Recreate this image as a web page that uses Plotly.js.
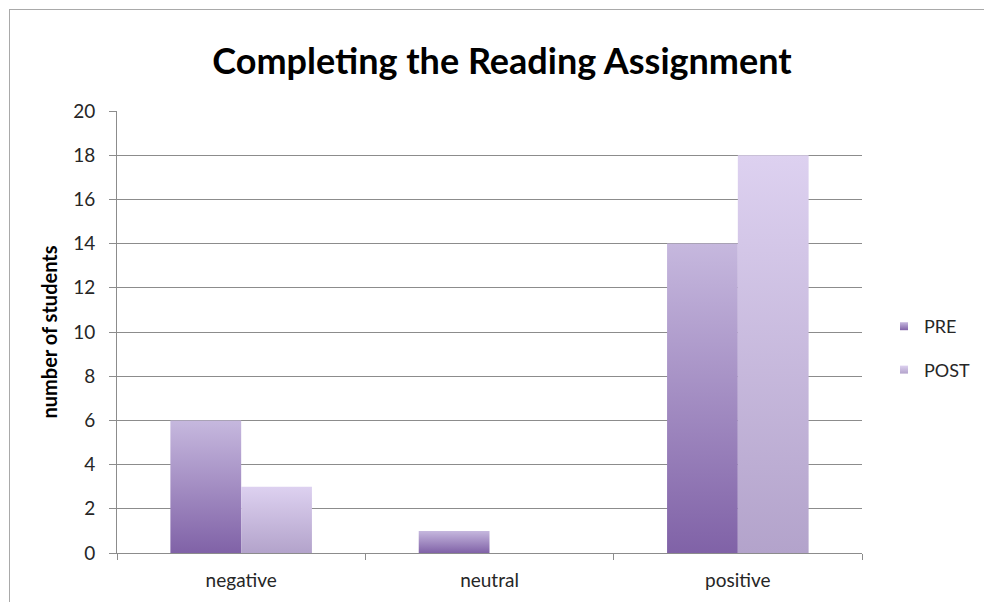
<!DOCTYPE html>
<html>
<head>
<meta charset="utf-8">
<script src="https://cdn.plot.ly/plotly-3.0.1.min.js"></script>
<style>
html,body{margin:0;padding:0;background:#fff;}
#wrap{position:relative;width:984px;height:602px;overflow:hidden;}
#chart{width:984px;height:602px;}
#frame{position:absolute;left:9px;top:9px;width:2000px;height:2000px;border-left:1px solid #a9a9a9;border-top:1px solid #a9a9a9;pointer-events:none;}
</style>
</head>
<body>
<div id="wrap"><div id="chart"></div><div id="frame"></div></div>
<script>
const categories = ["negative", "neutral", "positive"];
const preValues = [6, 1, 14];
const postValues = [3, 0, 18];
const seriesNames = ["PRE", "POST"];
const yTicks = [0, 2, 4, 6, 8, 10, 12, 14, 16, 18, 20];

const FONT = "Lato, 'Open Sans', sans-serif";

const data = [
  {type: "bar", name: seriesNames[0], x: categories, y: preValues,
   marker: {color: "#a08bc4", line: {width: 0}}, legendgroup: "a", hoverinfo: "none"},
  {type: "bar", name: seriesNames[1], x: categories, y: postValues,
   marker: {color: "#cbbfe2", line: {width: 0}}, legendgroup: "b", hoverinfo: "none"}
];

const layout = {
  width: 984, height: 602,
  margin: {l: 117, r: 122, t: 111, b: 49, autoexpand: false},
  paper_bgcolor: "#ffffff", plot_bgcolor: "#ffffff",
  font: {family: FONT, size: 19, color: "#262626"},
  barmode: "group", bargap: 0.43, bargroupgap: 0,
  title: {text: "Completing the Reading Assignment", font: {family: FONT, size: 36, color: "#000", weight: 700},
          x: 502/984, xref: "container", xanchor: "center", y: 1 - 61/602, yref: "container", yanchor: "middle"},
  xaxis: {type: "category", tickson: "boundaries", ticks: "outside", ticklen: 6, tickcolor: "#8c8c8c",
          showline: true, linecolor: "#8c8c8c", linewidth: 1, showgrid: false, zeroline: false,
          ticklabelstandoff: 10, tickfont: {family: FONT, size: 19, color: "#262626"}, fixedrange: true},
  yaxis: {range: [0, 20], tickvals: yTicks, ticktext: yTicks.map(String), ticks: "outside", ticklen: 7,
          tickcolor: "#8c8c8c", showline: true, linecolor: "#8c8c8c", linewidth: 1,
          showgrid: true, gridcolor: "#8c8c8c", gridwidth: 1, zeroline: false,
          ticklabelstandoff: 10, tickfont: {family: FONT, size: 19, color: "#262626"},
          title: {text: "number of students", font: {family: FONT, size: 20, color: "#000", weight: 700}, standoff: 10},
          fixedrange: true},
  showlegend: true,
  legend: {x: 884/984, xref: "container", xanchor: "left", y: 1 - 308/602, yref: "container", yanchor: "top",
           traceorder: "grouped", tracegroupgap: 17,
           font: {family: FONT, size: 18, color: "#262626"}, bgcolor: "rgba(0,0,0,0)"}
};

function addGradients(gd) {
  const svg = gd.querySelector("svg.main-svg");
  const ns = "http://www.w3.org/2000/svg";
  const defs = document.createElementNS(ns, "defs");
  const specs = [["gradPRE", "#c6b8de", "#8062a7"], ["gradPOST", "#ddd1f0", "#b3a3cb"]];
  specs.forEach(([id, c1, c2]) => {
    const g = document.createElementNS(ns, "linearGradient");
    g.setAttribute("id", id);
    g.setAttribute("x1", "0"); g.setAttribute("y1", "0"); g.setAttribute("x2", "0"); g.setAttribute("y2", "1");
    [[0, c1], [1, c2]].forEach(([o, c]) => {
      const s = document.createElementNS(ns, "stop");
      s.setAttribute("offset", String(o)); s.setAttribute("stop-color", c);
      g.appendChild(s);
    });
    defs.appendChild(g);
  });
  svg.insertBefore(defs, svg.firstChild);
  const ids = ["gradPRE", "gradPOST"];
  gd.querySelectorAll("g.trace.bars").forEach((t, i) => {
    t.querySelectorAll("path").forEach(p => { p.style.fill = "url(#" + ids[i] + ")"; });
  });
  gd.querySelectorAll(".legend g.traces").forEach((t, i) => {
    t.querySelectorAll(".legendpoints path").forEach(p => {
      p.setAttribute("d", "M4,4H-4V-4H4Z");
      p.style.fill = "url(#" + ids[i] + ")";
    });
  });
}

Plotly.newPlot("chart", data, layout, {displayModeBar: false, staticPlot: true}).then(addGradients);
</script>
</body>
</html>
